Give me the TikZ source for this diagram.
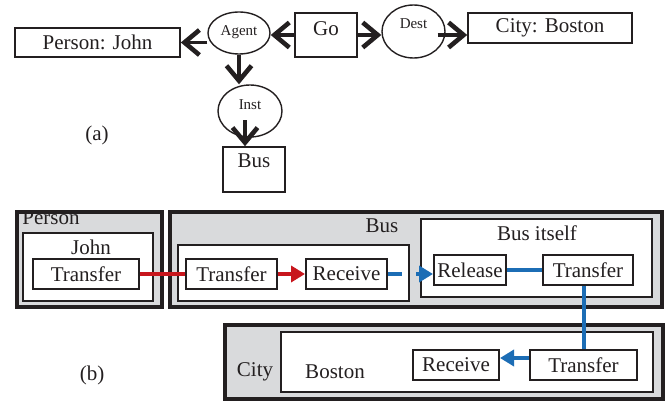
\documentclass[tikz,border=0pt]{standalone}
\usepackage{fontspec}
\setmainfont{Liberation Serif}
\usetikzlibrary{arrows.meta,shapes.geometric,calc}
\definecolor{ink}{HTML}{231F20}
\definecolor{panel}{HTML}{D9DADC}
\definecolor{flowred}{HTML}{C8161D}
\definecolor{flowblue}{HTML}{1C6DB5}
\tikzset{
  txt/.style={font=\fontsize{21}{24}\selectfont, text=ink, inner sep=0pt},
  smalltxt/.style={font=\fontsize{15}{18}\selectfont, text=ink, inner sep=0pt},
  rbox/.style={draw=ink, line width=1.6pt, rectangle, inner sep=0pt},
  oval/.style={draw=ink, line width=1.4pt, ellipse, inner sep=0pt},
  outerbox/.style={draw=ink, line width=4pt, fill=panel, rectangle, inner sep=0pt},
  innerbox/.style={draw=ink, line width=2pt, fill=white, rectangle, inner sep=0pt},
  tbox/.style={draw=ink, line width=2pt, fill=white, rectangle, inner sep=0pt,
    font=\fontsize{21}{24}\selectfont, text=ink},
  barb/.style={draw=ink, line width=3.4pt,
    -{Straight Barb[length=15pt,width=25pt,line width=4.6pt]}},
  redflow/.style={draw=flowred, line width=4pt},
  blueflow/.style={draw=flowblue, line width=4pt},
  tri/.style={-{Triangle[length=14pt,width=16pt]}},
}
\begin{document}
\begin{tikzpicture}[x=1pt,y=-1pt]
\useasboundingbox (0,0) rectangle (672,401);

% ---------- (a) conceptual graph ----------
\node[rbox, minimum width=165, minimum height=29] (pj) at (97.5,42.5) {};
\node[txt] at (pj.center) {Person: John};
\node[oval, minimum width=62, minimum height=42] (agent) at (239,33) {};
\node[smalltxt] at (239,32) {Agent};
\node[rbox, minimum width=62, minimum height=44] (go) at (326,35) {};
\node[txt] at (326,29) {Go};
\node[oval, minimum width=63, minimum height=53] (dest) at (413.5,31.5) {};
\node[smalltxt] at (413.5,24) {Dest};
\node[rbox, minimum width=164, minimum height=30] (city) at (550,28) {};
\node[txt] at (city.center) {City: Boston};
\node[oval, minimum width=64, minimum height=52] (inst) at (250,111) {};
\node[smalltxt] at (250,105) {Inst};
\node[rbox, minimum width=62, minimum height=45] (bus) at (254,169.5) {};
\node[txt] at (254,161) {Bus};
\node[txt] (la) at (97,135) {(a)};

\draw[barb] (go.west) -- (go.west -| agent.east);
\draw[barb] (pj.east -| agent.west) -- (pj.east);
\draw[barb] (agent.south) -- (agent.south |- inst.north);
\draw[barb] ($(bus.north)+(-9,-26)$) -- ($(bus.north)+(-9,0)$);
\draw[barb] (go.east) -- (go.east -| dest.west);
\draw[barb] ($(go.east -| dest.east)+(-8,0)$) -- (go.east -| city.west);

% ---------- (b) nested containers ----------
\node[outerbox, minimum width=145, minimum height=95] (personO) at (89,259) {};
\node[txt] at (51,218) {Person};
\node[innerbox, minimum width=130, minimum height=68] (john) at (88,267) {};
\node[txt] at (91,247) {John};
\node[tbox, minimum width=106, minimum height=30] (t1) at (86,274) {Transfer};

\node[outerbox, minimum width=492, minimum height=95] (busO) at (415.5,259) {};
\node[txt] at (382,226) {Bus};
\node[innerbox, minimum width=231, minimum height=56] (busIn) at (293.5,273) {};
\node[tbox, minimum width=91, minimum height=30] (t2) at (231.5,274) {Transfer};
\node[tbox, minimum width=81, minimum height=30] (rcv) at (346.5,274) {Receive};
\node[innerbox, minimum width=231, minimum height=78] (itself) at (536.5,258) {};
\node[txt] at (537,233) {Bus itself};
\node[tbox, minimum width=72, minimum height=30] (rel) at (470,270) {Release};
\node[tbox, minimum width=90, minimum height=30] (t3) at (588,270) {Transfer};

\node[outerbox, minimum width=438, minimum height=73.5] (cityO) at (443.5,361.75) {};
\node[txt] at (255,372) {City};
\node[innerbox, minimum width=372, minimum height=60] (boston) at (467,362) {};
\node[txt] at (335,372) {Boston};
\node[tbox, minimum width=86, minimum height=30] (rcv2) at (456,365) {Receive};
\node[tbox, minimum width=107, minimum height=30] (t4) at (583.5,365) {Transfer};
\node[txt] (lb) at (92,375) {(b)};

% flows
\draw[redflow] (t1.east) -- (t2.west);
\draw[redflow, tri] (t2.east) -- (rcv.west);
\draw[blueflow, tri, dash pattern=on 14pt off 14pt] (rcv.east) -- (rcv.east -| rel.west);
\draw[blueflow] (rel.east) -- (t3.west);
\draw[blueflow] (t3.south -| t4.north) -- (t4.north);
\draw[blueflow, tri] ($(t4.west)+(0,-7)$) -- ($(rcv2.east)+(0,-7)$);
\end{tikzpicture}
\end{document}
